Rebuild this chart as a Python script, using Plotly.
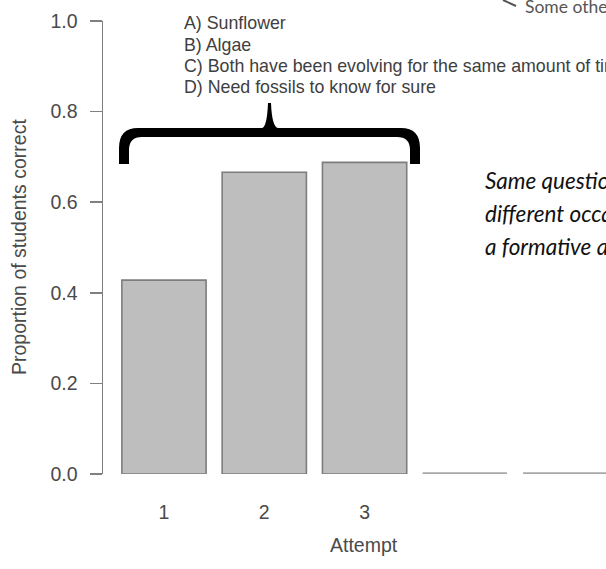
import plotly.graph_objects as go

# ---------------- data ----------------
attempts = [1, 2, 3, 4, 5]
proportion_correct = [0.428, 0.666, 0.688, 0.0, 0.0]
x_tick_vals = [1, 2, 3]
x_tick_text = ["1", "2", "3"]
y_tick_vals = [0.0, 0.2, 0.4, 0.6, 0.8, 1.0]
y_tick_text = ["0.0", "0.2", "0.4", "0.6", "0.8", "1.0"]
answer_options = [
    "A) Sunflower",
    "B) Algae",
    "C) Both have been evolving for the same amount of time",
    "D) Need fossils to know for sure",
]
side_note_lines = ["Same question on", "different occasions:", "a formative assessment"]
corner_note = "Some other questions"
x_title = "Attempt"
y_title = "Proportion of students correct"

# ---------------- layout geometry (pixels) ----------------
W, H = 606, 569
L, R, T, B = 103, 606, 21, 474
BAR_W = 0.84


def px(x):
    return (x - L) / (R - L)


def py(y):
    return (B - y) / (B - T)


def P(x, y):
    return f"{px(x):.5f},{py(y):.5f}"


FONT = "Liberation Sans, Arial, Helvetica, sans-serif"
TXT = "#4a4a4a"
AX_SIZE = 19.5

fig = go.Figure()
fig.add_trace(go.Bar(
    x=attempts, y=proportion_correct, width=BAR_W,
    marker=dict(color="#bebebe", line=dict(color="#7d7d7d", width=1.6)),
    cliponaxis=False, hoverinfo="skip",
))

# zero-height bars are drawn by R as a flat outline: reproduce that from the data
zx, zy = [], []
for a, v in zip(attempts, proportion_correct):
    if v == 0:
        zx += [a - BAR_W / 2, a + BAR_W / 2, None]
        zy += [v, v, None]
fig.add_trace(go.Scatter(x=zx, y=zy, mode="lines",
                         line=dict(color="#a8a8a8", width=3.5),
                         cliponaxis=False, hoverinfo="skip"))

annotations = []
# answer options
for i, t in enumerate(answer_options):
    annotations.append(dict(
        text=t, xref="paper", yref="paper", x=px(182), y=py(23 + i * 21.5),
        xanchor="left", yanchor="middle", showarrow=False,
        font=dict(family=FONT, size=17.8, color="#404040")))
# italic side note
for i, t in enumerate(side_note_lines):
    annotations.append(dict(
        text=f"<i>{t}</i>", xref="paper", yref="paper", x=px(483), y=py(180 + i * 33),
        xanchor="left", yanchor="middle", showarrow=False,
        font=dict(family="Lato, Carlito, sans-serif", size=22.5, color="#111")))
# corner note
annotations.append(dict(
    text=corner_note, xref="paper", yref="paper", x=px(523), y=py(6),
    xanchor="left", yanchor="middle", showarrow=False,
    font=dict(family="Lato, sans-serif", size=17.5, color="#555")))
# axis titles
annotations.append(dict(
    text=y_title, xref="paper", yref="paper", x=px(19), y=py(247),
    xanchor="center", yanchor="middle", textangle=-90, showarrow=False,
    font=dict(family=FONT, size=AX_SIZE, color=TXT)))
annotations.append(dict(
    text=x_title, xref="paper", yref="paper", x=px(364), y=py(545),
    xanchor="center", yanchor="middle", showarrow=False,
    font=dict(family=FONT, size=AX_SIZE, color=TXT)))

brace = (f"M {P(119,164)} L {P(119,148)} Q {P(119,128)} {P(138,128)} "
         f"L {P(262,128)} Q {P(267,127)} {P(268,103)} L {P(271,103)} "
         f"Q {P(272,127)} {P(278,128)} L {P(401,128)} Q {P(420,128)} {P(420,148)} "
         f"L {P(420,164)} L {P(410,164)} L {P(410,150)} Q {P(410,137)} {P(397,137)} "
         f"L {P(142,137)} Q {P(129,137)} {P(129,150)} L {P(129,164)} Z")

shapes = [
    dict(type="path", xref="paper", yref="paper", path=brace,
         fillcolor="black", line=dict(width=0)),
    dict(type="line", xref="paper", yref="paper",
         x0=px(503), y0=py(0), x1=px(516), y1=py(6),
         line=dict(color="#555", width=2)),
]

fig.update_layout(
    width=W, height=H,
    margin=dict(l=L, r=W - R, t=T, b=H - B, pad=0),
    paper_bgcolor="white", plot_bgcolor="white",
    showlegend=False,
    annotations=annotations, shapes=shapes,
    xaxis=dict(range=[0.392, 5.407], tickmode="array", tickvals=x_tick_vals,
               ticktext=x_tick_text, ticks="", showline=False, showgrid=False,
               zeroline=False, ticklabelstandoff=24,
               tickfont=dict(family=FONT, size=AX_SIZE, color=TXT)),
    yaxis=dict(range=[0, 1], tickmode="array", tickvals=y_tick_vals,
               ticktext=y_tick_text, ticks="outside", ticklen=12, tickwidth=1.5,
               tickcolor="#808080", showline=True, linecolor="#808080", linewidth=1.5,
               showgrid=False, zeroline=False, ticklabelstandoff=8,
               tickfont=dict(family=FONT, size=AX_SIZE, color=TXT)),
)

fig.write_html("out.html",
               config=dict(displayModeBar=False, staticPlot=True),
               post_script="document.body.style.margin='0';document.body.style.overflow='hidden';")
